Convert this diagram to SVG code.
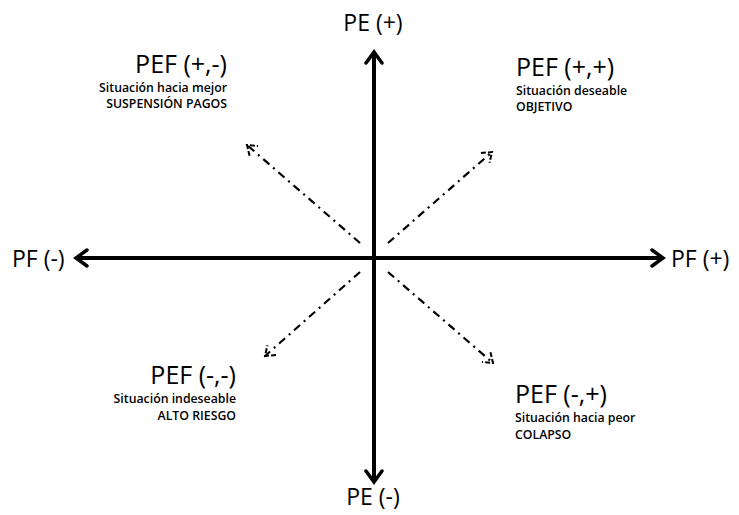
<svg xmlns="http://www.w3.org/2000/svg" width="739" height="515" viewBox="0 0 739 515">
<defs>
<marker id="ah" viewBox="0 0 20 20" refX="17" refY="10" markerWidth="20" markerHeight="20" markerUnits="userSpaceOnUse" orient="auto">
<path d="M6,2 L17,10 L6,18" fill="none" stroke="#000" stroke-width="3.5" stroke-linecap="round" stroke-linejoin="miter"/>
</marker>
<marker id="dh" viewBox="0 0 16 16" refX="14" refY="8" markerWidth="16" markerHeight="16" markerUnits="userSpaceOnUse" orient="auto">
<path d="M5,1.5 L14,8 L5,14.5" fill="none" stroke="#000" stroke-width="2" stroke-dasharray="5 2"/>
</marker>
<style>
.ax{stroke:#000;stroke-width:4;fill:none}
.dd{stroke:#000;stroke-width:2.2;fill:none;stroke-dasharray:8 5 2 5}
.big{font-family:"Open Sans","Noto Sans",sans-serif;font-size:25px;fill:#000}
.axl{font-family:"Open Sans","Noto Sans",sans-serif;font-size:23px;fill:#000}
.sm{font-family:"Open Sans","Noto Sans",sans-serif;font-size:12.3px;font-weight:600;fill:#000}
</style>
</defs>
<rect width="739" height="515" fill="#fff"/>
<g id="connectors">
<line class="ax" x1="374" y1="258" x2="374" y2="52" marker-end="url(#ah)"/>
<line class="ax" x1="374" y1="258" x2="374" y2="482" marker-end="url(#ah)"/>
<line class="ax" x1="374" y1="258" x2="76" y2="258" marker-end="url(#ah)"/>
<line class="ax" x1="374" y1="258" x2="663" y2="258" marker-end="url(#ah)"/>
<line class="dd" x1="360" y1="243" x2="247" y2="145" marker-end="url(#dh)"/>
<line class="dd" x1="388" y1="243" x2="492" y2="152" marker-end="url(#dh)"/>
<line class="dd" x1="360" y1="272" x2="265" y2="356" marker-end="url(#dh)"/>
<line class="dd" x1="388" y1="272" x2="493" y2="363" marker-end="url(#dh)"/>
</g>
<g id="pe-plus"><text class="axl" x="373" y="31" text-anchor="middle">PE (+)</text></g>
<g id="pe-minus"><text class="axl" x="373" y="505" text-anchor="middle">PE (-)</text></g>
<g id="pf-minus"><text class="axl" x="12" y="267">PF (-)</text></g>
<g id="pf-plus"><text class="axl" x="671" y="267">PF (+)</text></g>
<g id="q-tl">
<text class="big" x="227" y="73" text-anchor="end">PEF (+,-)</text>
<text class="sm" x="227" y="92" text-anchor="end">Situación hacia mejor</text>
<text class="sm" x="227" y="108" text-anchor="end">SUSPENSIÓN PAGOS</text>
</g>
<g id="q-tr">
<text class="big" x="516" y="76">PEF (+,+)</text>
<text class="sm" x="516" y="95">Situación deseable</text>
<text class="sm" x="516" y="111">OBJETIVO</text>
</g>
<g id="q-bl">
<text class="big" x="236" y="384" text-anchor="end">PEF (-,-)</text>
<text class="sm" x="236" y="403" text-anchor="end">Situación indeseable</text>
<text class="sm" x="236" y="420" text-anchor="end">ALTO RIESGO</text>
</g>
<g id="q-br">
<text class="big" x="515" y="403">PEF (-,+)</text>
<text class="sm" x="515" y="422">Situación hacia peor</text>
<text class="sm" x="515" y="439">COLAPSO</text>
</g>
</svg>
